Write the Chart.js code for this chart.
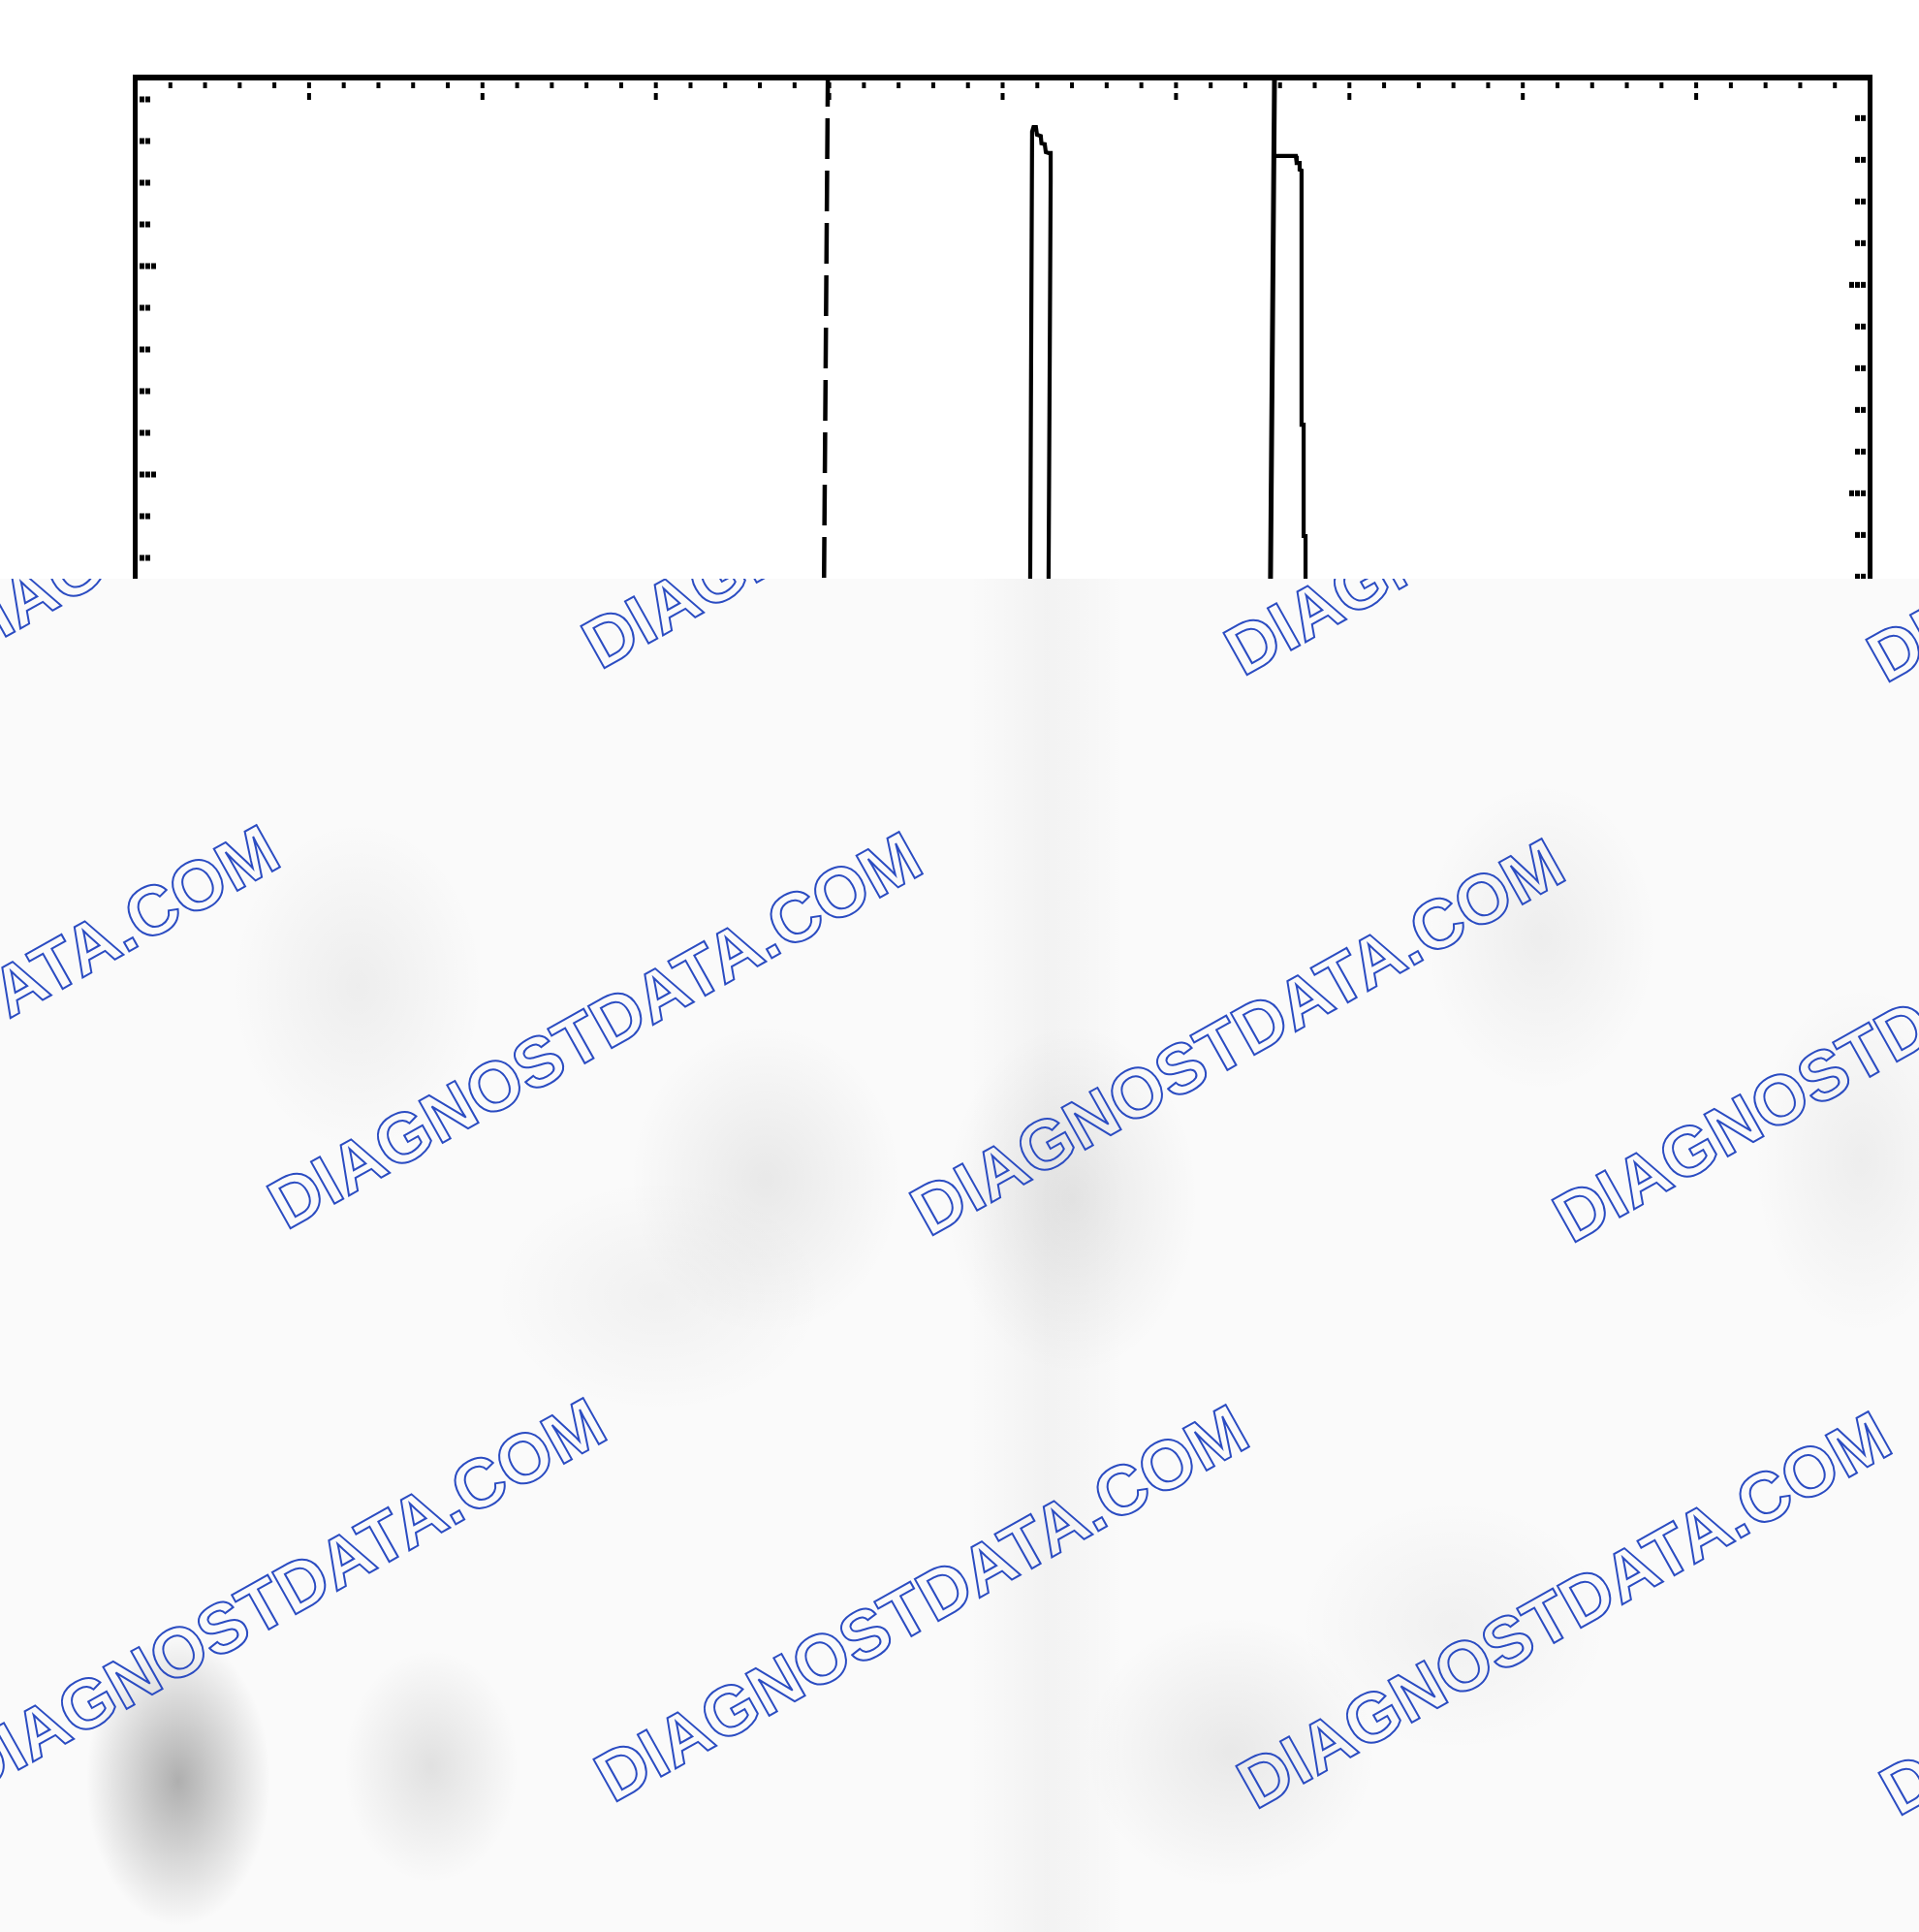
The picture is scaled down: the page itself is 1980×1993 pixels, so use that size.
<!DOCTYPE html>
<html>
<head>
<meta charset="utf-8">
<script src="https://cdn.jsdelivr.net/npm/chart.js@4.4.1/dist/chart.umd.min.js"></script>
<style>
    html, body { margin: 0; padding: 0; background: #fff; }
    #wrap { position: relative; width: 1980px; height: 1993px; overflow: hidden; }
    #scope { position: absolute; left: 0; top: 0; }
    #cover {
        position: absolute; left: 0; top: 597px; width: 1980px; height: 1396px; overflow: hidden;
        background:
            radial-gradient(ellipse 95px 150px at 184px 1240px, rgba(0,0,0,0.30), rgba(0,0,0,0) 100%),
            radial-gradient(ellipse 90px 120px at 445px 1225px, rgba(0,0,0,0.10), rgba(0,0,0,0) 100%),
            radial-gradient(ellipse 130px 170px at 369px 420px, rgba(0,0,0,0.05), rgba(0,0,0,0) 100%),
            radial-gradient(ellipse 140px 160px at 790px 620px, rgba(0,0,0,0.07), rgba(0,0,0,0) 100%),
            radial-gradient(ellipse 130px 180px at 1106px 640px, rgba(0,0,0,0.08), rgba(0,0,0,0) 100%),
            radial-gradient(ellipse 120px 160px at 1590px 370px, rgba(0,0,0,0.05), rgba(0,0,0,0) 100%),
            radial-gradient(ellipse 110px 180px at 1920px 600px, rgba(0,0,0,0.05), rgba(0,0,0,0) 100%),
            radial-gradient(ellipse 150px 140px at 1270px 1210px, rgba(0,0,0,0.07), rgba(0,0,0,0) 100%),
            radial-gradient(ellipse 170px 120px at 680px 740px, rgba(0,0,0,0.04), rgba(0,0,0,0) 100%),
            radial-gradient(ellipse 160px 130px at 1500px 1080px, rgba(0,0,0,0.04), rgba(0,0,0,0) 100%),
            linear-gradient(90deg, rgba(0,0,0,0) 1000px, rgba(0,0,0,0.03) 1080px, rgba(0,0,0,0) 1160px),
            #fafafa;
    }
    .wm {
        position: absolute;
        font-family: "Liberation Sans", Arial, sans-serif;
        font-weight: bold;
        font-size: 72px;
        line-height: 1;
        color: transparent;
        -webkit-text-stroke: 2px #2b4cc2;
        white-space: nowrap;
        transform-origin: 0 100%;
        transform: rotate(-29.3deg);
    }
</style>
</head>
<body>
<div id="wrap">
    <canvas id="scope" width="1980" height="1993"></canvas>
    <div id="cover"></div>
</div>
<script>
// screen divisions: x 0..10 across the frame, y 2.5..44.5 (top of frame = 44.5)
const xRange = [0, 10];
const yRange = [2.5, 44.5];
const yMajorTick = 40;      // long tick rows every 5 divisions from here
const rightTickShift = 0.45; // right-hand tick column sits a little lower (scan skew)

// dashed trigger marker
const markerX = [3.992, 3.970, 3.900];
const markerY = [44.5, 32.48, 2.5];

// solid edge line running from the top of the frame
const edgeX = [6.568, 6.545, 6.470];
const edgeY = [44.5, 32.48, 2.5];

// first pulse (narrow spike)
const pulseAX = [5.150, 5.159, 5.170, 5.178, 5.192, 5.198, 5.220, 5.224, 5.243, 5.249, 5.266, 5.277, 5.277, 5.265, 5.258];
const pulseAY = [2.5, 32.48, 43.20, 43.31, 43.31, 43.13, 43.10, 42.92, 42.90, 42.71, 42.69, 42.69, 42.00, 32.48, 2.5];

// second pulse (flat top, stepped trailing edge)
const pulseBX = [6.562, 6.691, 6.696, 6.713, 6.713, 6.724, 6.724, 6.736, 6.736, 6.747, 6.747];
const pulseBY = [42.62, 42.62, 42.45, 42.45, 42.29, 42.27, 36.17, 36.17, 33.50, 33.50, 2.5];

const watermarkText = 'DIAGNOSTDATA.COM';

function zip(xs, ys) {
    return xs.map((x, i) => ({ x: x, y: ys[i] }));
}

function lineSet(xs, ys, width, dash) {
    return {
        data: zip(xs, ys),
        showLine: true,
        borderColor: '#000',
        borderWidth: width,
        borderDash: dash || [],
        borderDashOffset: dash ? 12 : 0,
        pointRadius: 0,
        tension: 0,
        fill: false
    };
}

// frame and the small graticule ticks inside it
const scopeFrame = {
    id: 'scopeFrame',
    afterDatasetsDraw(chart) {
        const { ctx, chartArea: a, scales: { x, y } } = chart;
        ctx.save();
        ctx.fillStyle = '#000';

        // top edge ticks
        for (let i = 0; i <= 50; i++) {
            const px = x.getPixelForValue(i / 5);
            ctx.fillRect(px - 2, a.top + 5, 4, 6);
            if (i % 5 === 0) ctx.fillRect(px - 2, a.top + 16, 4, 7);
        }

        // left / right edge ticks, drawn as little dot runs
        for (let v = Math.ceil(yRange[0]); v <= Math.floor(yRange[1]); v++) {
            const major = (yMajorTick - v) % 5 === 0;
            const dots = major ? 3 : 2;
            const pl = y.getPixelForValue(v);
            const pr = y.getPixelForValue(v - rightTickShift);
            for (let d = 0; d < dots; d++) {
                ctx.fillRect(a.left + 4 + d * 6, pl - 2, 5, 6);
                ctx.fillRect(a.right - 9 - d * 6, pr - 2, 5, 6);
            }
        }

        // frame lines
        ctx.fillRect(a.left - 3, a.top - 3, a.width + 6, 6);
        ctx.fillRect(a.left - 3, a.top - 3, 5, a.height);
        ctx.fillRect(a.right - 2, a.top - 3, 5, a.height);
        ctx.restore();
    }
};

const ctx = document.getElementById('scope').getContext('2d');
new Chart(ctx, {
    type: 'scatter',
    data: {
        datasets: [
            lineSet(markerX, markerY, 4.5, [42, 12]),
            lineSet(edgeX, edgeY, 5),
            lineSet(pulseAX, pulseAY, 4.2),
            lineSet(pulseBX, pulseBY, 4.2)
        ]
    },
    options: {
        responsive: false,
        animation: false,
        layout: { padding: { left: 140, top: 80, right: 51, bottom: 107 } },
        scales: {
            x: { type: 'linear', min: xRange[0], max: xRange[1], display: false },
            y: { type: 'linear', min: yRange[0], max: yRange[1], display: false }
        },
        plugins: {
            legend: { display: false },
            tooltip: { enabled: false }
        }
    },
    plugins: [scopeFrame]
});

// watermark tiles over the blurred lower part
const cover = document.getElementById('cover');
const rows = [
    { x0: 625, y0: 693 },
    { x0: 301, y0: 1271 },
    { x0: 638, y0: 1862 }
];
rows.forEach(function(r) {
    for (let k = -2; k <= 3; k++) {
        const sx = r.x0 + k * 663;
        const sy = r.y0 + k * 7;
        const el = document.createElement('div');
        el.className = 'wm';
        el.textContent = watermarkText;
        el.style.left = sx + 'px';
        el.style.top = (sy - 597 - 64) + 'px';
        cover.appendChild(el);
    }
});
</script>
</body>
</html>
